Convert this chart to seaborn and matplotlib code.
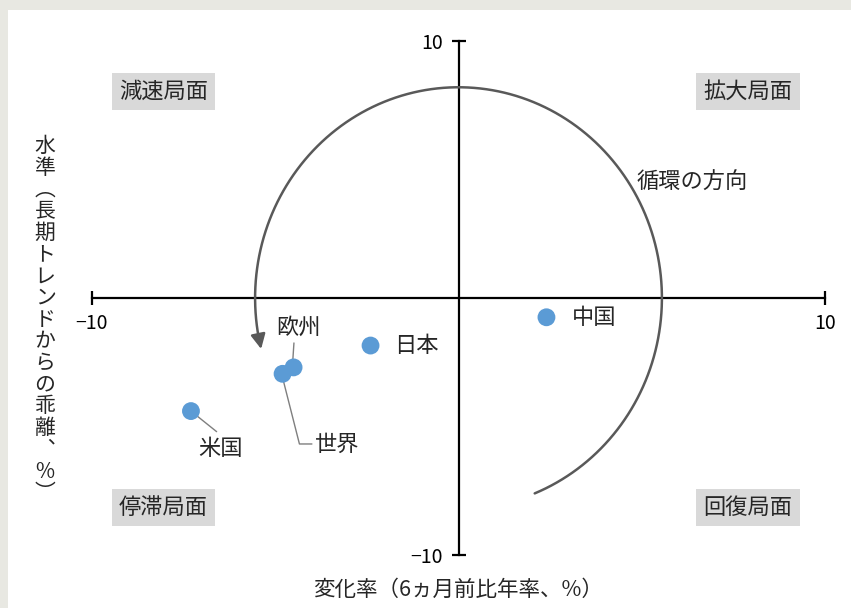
import numpy as np
import pandas as pd
import matplotlib
matplotlib.use('Agg')
import matplotlib.pyplot as plt
from matplotlib.patches import Rectangle
import seaborn as sns

# data: x = 変化率, y = 水準
regions = ['中国', '日本', '欧州', '世界', '米国']
change = [2.4, -2.4, -4.5, -4.8, -7.3]
level = [-0.75, -1.85, -2.7, -2.95, -4.4]

quadrants = ['減速局面', '拡大局面', '停滞局面', '回復局面']
quad_x = [-8.05, 7.9, -8.05, 7.9]
quad_y = [8.05, 8.05, -8.15, -8.15]

df = pd.DataFrame({'region': regions, 'x': change, 'y': level})

sns.set_theme(style='white')
plt.rcParams['font.family'] = ['Noto Sans CJK JP', 'DejaVu Sans']
plt.rcParams['axes.unicode_minus'] = True

W, H = 851, 608
fig = plt.figure(figsize=(W/100, H/100), dpi=100)
fig.patch.set_facecolor('#e8e8e2')
fig.add_artist(Rectangle((8/W, 0), 1, (H-10)/H, transform=fig.transFigure,
                         facecolor='white', edgecolor='none', zorder=-1))

ax = fig.add_axes([92/W, (H-555)/H, (825-92)/W, (555-41)/H])
ax.patch.set_alpha(0)

sns.scatterplot(data=df, x='x', y='y', ax=ax, s=165, color='#5b9bd5',
                edgecolor='none', zorder=5, legend=False)

ax.set_xlim(-10, 10)
ax.set_ylim(-10, 10)
for s in ['top', 'right']:
    ax.spines[s].set_visible(False)
ax.spines['left'].set_position(('data', 0))
ax.spines['bottom'].set_position(('data', 0))
for s in ['left', 'bottom']:
    ax.spines[s].set_color('black')
    ax.spines[s].set_linewidth(1.6)
ax.set_xticks([-10, 10])
ax.set_yticks([-10, 10])
ax.set_xticklabels(['−10', '10'])
ax.set_yticklabels(['−10', '10'])
ax.tick_params(axis='both', direction='inout', length=10, width=1.6,
               labelsize=14, colors='black', bottom=True, left=True, pad=6)
ax.set_xlabel('')
ax.set_ylabel('')

# cycle arc
t = np.linspace(np.deg2rad(-68), np.deg2rad(190), 300)
rx, ry = 5.55, 8.2
ax.plot(rx*np.cos(t), ry*np.sin(t), color='#595959', lw=1.8, zorder=3)
t2 = np.deg2rad([190, 194])
ax.annotate('', xy=(rx*np.cos(t2[1]), ry*np.sin(t2[1])),
            xytext=(rx*np.cos(t2[0]), ry*np.sin(t2[0])),
            arrowprops=dict(arrowstyle='-|>', color='#595959', lw=1.8,
                            mutation_scale=22, shrinkA=0, shrinkB=0))
ax.text(4.85, 4.5, '循環の方向', fontsize=16, ha='left', va='center')

# quadrant labels
for q, qx, qy in zip(quadrants, quad_x, quad_y):
    ax.text(qx, qy, q, fontsize=16, ha='center', va='center',
            bbox=dict(boxstyle='square,pad=0.32', facecolor='#d9d9d9', edgecolor='none'))

# point labels
lead = dict(color='#7f7f7f', lw=1.0, zorder=4)
ax.text(3.1, -0.75, '中国', fontsize=16, ha='left', va='center')
ax.text(-1.75, -1.85, '日本', fontsize=16, ha='left', va='center')
ax.text(-4.38, -1.15, '欧州', fontsize=16, ha='center', va='center')
ax.plot([-4.49, -4.52], [-1.75, -2.4], **lead)
ax.text(-3.92, -5.68, '世界', fontsize=16, ha='left', va='center')
ax.plot([-4.8, -4.34, -4.0], [-3.1, -5.68, -5.68], **lead)
ax.text(-6.5, -5.85, '米国', fontsize=16, ha='center', va='center')
ax.plot([-7.3, -6.6], [-4.4, -5.2], **lead)

# axis titles
fig.text(458/W, 1 - 590/H, '変化率（6ヵ月前比年率、%）', fontsize=15.5,
         ha='center', va='center')
ylab = '水準︵長期トレンドからの乖離︑%︶'
y0, step = 146, 21.7
for i, ch in enumerate(ylab):
    fig.text(45/W, 1 - (y0 + i*step)/H, ch, fontsize=15, ha='center', va='center')

fig.savefig('out.png', dpi=100, facecolor=fig.get_facecolor())
